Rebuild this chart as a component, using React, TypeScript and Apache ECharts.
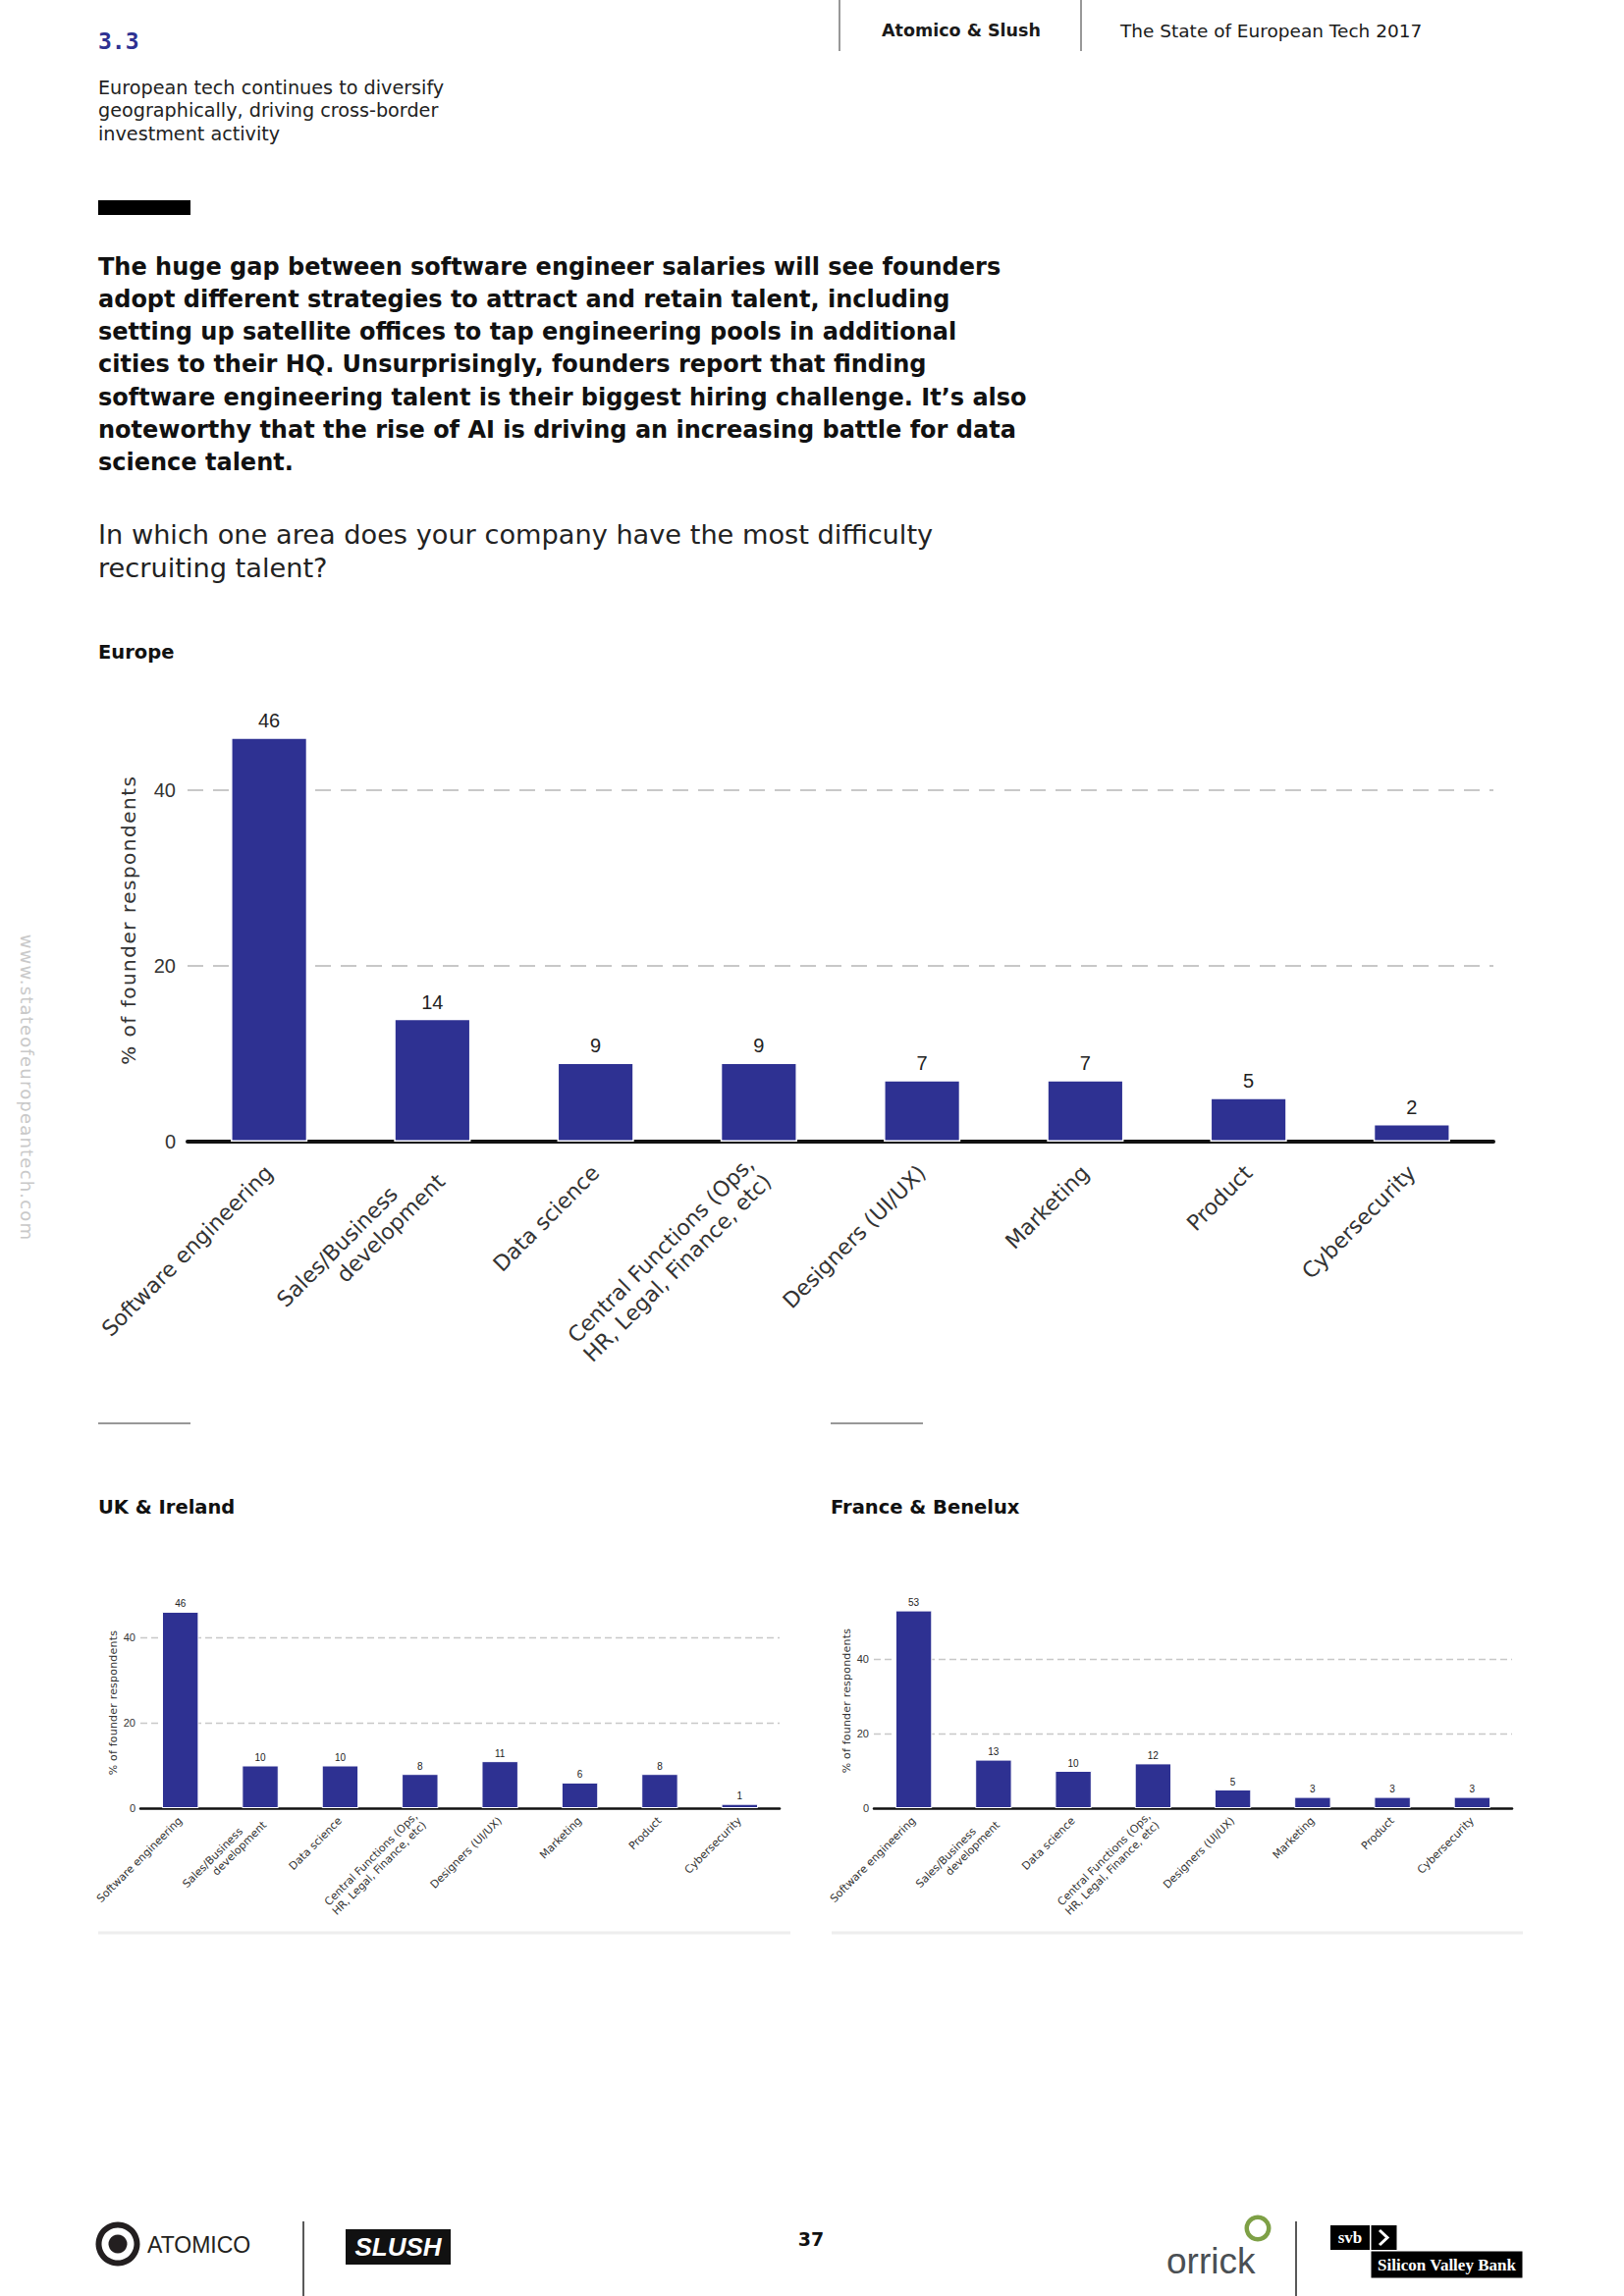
import React, { useEffect, useRef } from "react";
import * as echarts from "echarts";

// ---------- data ----------
const categories = [
  "Software engineering",
  "Sales/Business\ndevelopment",
  "Data science",
  "Central Functions (Ops,\nHR, Legal, Finance, etc)",
  "Designers (UI/UX)",
  "Marketing",
  "Product",
  "Cybersecurity",
];
const europeValues = [46, 14, 9, 9, 7, 7, 5, 2];
const ukValues = [46, 10, 10, 8, 11, 6, 8, 1];
const franceValues = [53, 13, 10, 12, 5, 3, 3, 3];
const yTickInterval = 20;
const europeMax = 48;
const ukMax = 48;
const franceMax = 56;

const yAxisName = "% of founder respondents";
const sectionNumber = "3.3";
const sectionTitleLines = [
  "European tech continues to diversify",
  "geographically, driving cross-border",
  "investment activity",
];
const headerLeft = "Atomico & Slush";
const headerRight = "The State of European Tech 2017";
const paragraphLines = [
  "The huge gap between software engineer salaries will see founders",
  "adopt different strategies to attract and retain talent, including",
  "setting up satellite offices to tap engineering pools in additional",
  "cities to their HQ. Unsurprisingly, founders report that finding",
  "software engineering talent is their biggest hiring challenge. It\u2019s also",
  "noteworthy that the rise of AI is driving an increasing battle for data",
  "science talent.",
];
const questionLines = [
  "In which one area does your company have the most difficulty",
  "recruiting talent?",
];
const chartTitles = ["Europe", "UK & Ireland", "France & Benelux"];
const pageNumber = "37";
const watermark = "www.stateofeuropeantech.com";

// ---------- styles ----------
const BAR = "#2e3192";
const BODY_FONT = '"DejaVu Sans", sans-serif';
const CHART_FONT = '"DejaVu Sans", sans-serif';
const NUM_FONT = '"Liberation Sans", Arial, sans-serif';

function txt(
  text: string,
  x: number,
  y: number,
  opts: {
    size: number;
    weight?: string | number;
    family?: string;
    color?: string;
    align?: string;
    vAlign?: string;
    style?: string;
    rotation?: number;
  }
) {
  const align = opts.align || "left";
  const vAlign = opts.vAlign || "middle";
  return {
    type: "text",
    x,
    y,
    rotation: opts.rotation || 0,
    silent: true,
    style: {
      text,
      fill: opts.color || "#1a1a1a",
      fontSize: opts.size,
      fontWeight: opts.weight || "normal",
      fontStyle: opts.style || "normal",
      fontFamily: opts.family || BODY_FONT,
      align,
      verticalAlign: vAlign,
      textAlign: align,
      textVerticalAlign: vAlign,
    },
  };
}

function line(x1: number, y1: number, x2: number, y2: number, color: string, w: number) {
  return {
    type: "line",
    silent: true,
    shape: { x1, y1, x2, y2 },
    style: { stroke: color, lineWidth: w },
  };
}

function rect(x: number, y: number, w: number, h: number, color: string) {
  return {
    type: "rect",
    silent: true,
    shape: { x, y, width: w, height: h },
    style: { fill: color },
  };
}

function buildAxes(idx: number, small: boolean, max: number) {
  const k = small ? 0.5 : 1;
  const fs = small ? 11 : 22;
  const lh = small ? 12.5 : 25;
  const base = { fontFamily: CHART_FONT, fontSize: fs, lineHeight: lh, color: "#333333" };
  const xAxis = {
    type: "category",
    gridIndex: idx,
    data: categories,
    axisLine: { show: true, lineStyle: { color: "#111111", width: small ? 2.5 : 4 } },
    axisTick: { show: false },
    axisLabel: {
      interval: 0,
      rotate: 45,
      margin: small ? 11 : 28,
      ...base,
      // the second category's first line sits further back along the slant
      formatter: (value: string, index: number) => {
        const parts = value.split("\n");
        if (index === 1 && parts.length === 2) {
          return `{lead|${parts[0]}}\n{plain|${parts[1]}}`;
        }
        return value;
      },
      rich: {
        lead: { ...base, padding: [0, 43 * k, 0, 0] },
        plain: { ...base },
      },
    },
  };
  const yAxis = {
    type: "value",
    gridIndex: idx,
    min: 0,
    max,
    interval: yTickInterval,
    axisLine: { show: false },
    axisTick: { show: false },
    axisLabel: {
      showMaxLabel: false,
      margin: small ? 5 : 12,
      fontFamily: NUM_FONT,
      fontSize: small ? 11 : 20,
      color: "#333333",
      formatter: (v: number) => (v % yTickInterval === 0 ? String(v) : ""),
    },
    splitLine: {
      show: true,
      showMinLine: false,
      showMaxLine: false,
      lineStyle: {
        type: small ? [7, 4] : [16, 10],
        color: "#c8c8c8",
        width: small ? 1.3 : 2,
      },
    },
    name: yAxisName,
    nameLocation: "middle",
    nameRotate: 90,
    nameGap: small ? 22 : 50,
    nameTextStyle: {
      fontFamily: CHART_FONT,
      fontSize: small ? 11 : 20,
      color: "#333333",
      padding: small ? [0, 0, 0, 6] : [0, 0, 0, 22],
    },
  };
  return { xAxis, yAxis };
}

function buildSeries(values: number[], idx: number, small: boolean) {
  return {
    type: "bar",
    xAxisIndex: idx,
    yAxisIndex: idx,
    data: values,
    barWidth: small ? "46%" : "47%",
    itemStyle: { color: BAR, borderColor: "#ffffff", borderWidth: small ? 1 : 1.5 },
    label: {
      show: true,
      position: "top",
      distance: small ? 3 : 7,
      color: "#222222",
      fontFamily: NUM_FONT,
      fontSize: small ? 10 : 20,
    },
  };
}

export default function App() {
  const ref = useRef<HTMLDivElement>(null);

  useEffect(() => {
    if (!ref.current) return;
    const host = ref.current;
    const chart = echarts.init(host, undefined, { renderer: "svg" });

    const eu = buildAxes(0, false, europeMax);
    const uk = buildAxes(1, true, ukMax);
    const fr = buildAxes(2, true, franceMax);

    const elements: any[] = [];
    // header
    elements.push(line(855, 0, 855, 52, "#333333", 1));
    elements.push(line(1101, 0, 1101, 52, "#333333", 1));
    elements.push(txt(headerLeft, 898, 31, { size: 17.5, weight: "bold" }));
    elements.push(txt(headerRight, 1141, 31, { size: 18.5 }));
    elements.push(
      txt(sectionNumber, 100, 42, {
        size: 23,
        weight: "bold",
        family: '"DejaVu Sans Mono", monospace',
        color: BAR,
      })
    );
    sectionTitleLines.forEach((l, i) =>
      elements.push(txt(l, 100, 89.5 + i * 23.3, { size: 19.2, color: "#222222" }))
    );
    // black bar
    elements.push(rect(100, 204, 94, 15, "#000000"));
    paragraphLines.forEach((l, i) =>
      elements.push(txt(l, 100, 271.5 + i * 33.3, { size: 24, weight: "bold", color: "#111111" }))
    );
    questionLines.forEach((l, i) =>
      elements.push(txt(l, 100, 544.5 + i * 34.3, { size: 27.2, color: "#222222" }))
    );
    // chart titles
    elements.push(txt(chartTitles[0], 100, 664, { size: 19.5, weight: "bold", color: "#111111" }));
    elements.push(txt(chartTitles[1], 100, 1535, { size: 19.5, weight: "bold", color: "#111111" }));
    elements.push(txt(chartTitles[2], 846, 1535, { size: 19.5, weight: "bold", color: "#111111" }));
    // separators
    elements.push(line(100, 1450, 194, 1450, "#333333", 1));
    elements.push(line(846, 1450, 940, 1450, "#333333", 1));
    elements.push(line(100, 1969, 805, 1969, "#eeeeee", 3));
    elements.push(line(847, 1969, 1551, 1969, "#eeeeee", 3));
    // watermark
    elements.push(
      txt(watermark, 27, 1108, {
        size: 18,
        family: CHART_FONT,
        color: "#c9c9c9",
        align: "center",
        rotation: -Math.PI / 2,
      })
    );
    // footer
    elements.push({
      type: "ring",
      silent: true,
      shape: { cx: 120, cy: 2286, r: 22.5, r0: 16.5 },
      style: { fill: "#231f20" },
    });
    elements.push({
      type: "circle",
      silent: true,
      shape: { cx: 120, cy: 2286, r: 9.5 },
      style: { fill: "#231f20" },
    });
    elements.push(
      txt("ATOMICO", 150, 2287, {
        size: 23,
        family: NUM_FONT,
        color: "#231f20",
      })
    );
    elements.push(line(309, 2263, 309, 2339, "#222222", 1.5));
    elements.push(rect(352, 2271, 107, 36, "#111111"));
    elements.push(
      txt("SLUSH", 405.5, 2289, {
        size: 26,
        weight: "bold",
        style: "italic",
        family: NUM_FONT,
        color: "#ffffff",
        align: "center",
      })
    );
    elements.push(
      txt(pageNumber, 826, 2281, { size: 19, weight: "bold", align: "center", color: "#111111" })
    );
    elements.push(txt("orrick", 1188, 2303, { size: 37, family: NUM_FONT, color: "#4a4f54" }));
    elements.push({
      type: "ring",
      silent: true,
      shape: { cx: 1281, cy: 2270, r: 13.5, r0: 9 },
      style: { fill: "#7ea046" },
    });
    elements.push(line(1320, 2263, 1320, 2339, "#222222", 1.5));
    elements.push(rect(1355, 2267, 40, 25, "#000000"));
    elements.push(rect(1396.5, 2267, 26, 25, "#000000"));
    elements.push(rect(1396.5, 2293.5, 154, 27, "#000000"));
    elements.push(
      txt("svb", 1375, 2279.5, {
        size: 17,
        weight: "bold",
        family: '"Liberation Serif", serif',
        color: "#ffffff",
        align: "center",
      })
    );
    elements.push({
      type: "polyline",
      silent: true,
      shape: {
        points: [
          [1405, 2272],
          [1413, 2279.5],
          [1405, 2287],
        ],
      },
      style: { stroke: "#ffffff", lineWidth: 3, fill: "none" },
    });
    elements.push(
      txt("Silicon Valley Bank", 1473.5, 2307, {
        size: 17,
        weight: "bold",
        family: '"Liberation Serif", serif',
        color: "#ffffff",
        align: "center",
      })
    );

    chart.setOption({
      animation: false,
      backgroundColor: "#ffffff",
      grid: [
        { left: 191, top: 733.4, width: 1330, height: 429.6 },
        { left: 143, top: 1633.2, width: 651, height: 208.8 },
        { left: 890, top: 1629.2, width: 650, height: 212.8 },
      ],
      xAxis: [eu.xAxis, uk.xAxis, fr.xAxis],
      yAxis: [eu.yAxis, uk.yAxis, fr.yAxis],
      series: [
        buildSeries(europeValues, 0, false),
        buildSeries(ukValues, 1, true),
        buildSeries(franceValues, 2, true),
      ],
      graphic: { elements },
    });

    // widen the tracking of the spaced-out texts, as in the print layout
    const applySpacing = () => {
      host.querySelectorAll("text").forEach((t) => {
        const s = t.textContent || "";
        if (s === yAxisName) {
          const fs = parseFloat(getComputedStyle(t).fontSize || "20");
          t.setAttribute("letter-spacing", fs > 15 ? "1.5" : "0.2");
        } else if (s === watermark) {
          t.setAttribute("letter-spacing", "1.2");
        }
      });
    };
    applySpacing();
    const timer = window.setTimeout(applySpacing, 50);

    return () => {
      window.clearTimeout(timer);
      chart.dispose();
    };
  }, []);

  return (
    <div
      ref={ref}
      style={{
        position: "absolute",
        left: 0,
        top: 0,
        width: 1654,
        height: 2339,
        background: "#ffffff",
      }}
    />
  );
}
